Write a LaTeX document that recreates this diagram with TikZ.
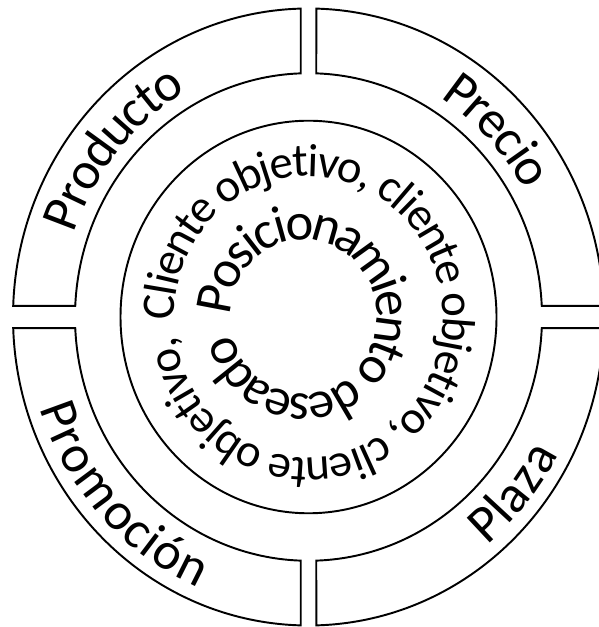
\documentclass[tikz,border=0pt]{standalone}
\usepackage{fontspec}
\setmainfont{Carlito}
\usetikzlibrary{decorations.text}

\begin{document}
\begin{tikzpicture}[
  sector/.style={draw, line width=1.1pt},
  ring/.style={draw, line width=1.1pt},
  mixlabel/.style={decorate, decoration={text along path, text align=center, raise=-10pt,
    text={|\fontsize{30}{34}\selectfont|#1}}},
  ringtext/.style={decorate, decoration={text along path, raise=-9pt,
    text={|\fontsize{26.6}{30}\selectfont|#1}}},
  coretext/.style={decorate, decoration={text along path, raise=-9.5pt,
    text={|\fontsize{30}{34}\selectfont|#1}}}
]
\useasboundingbox (-6.17,-6.20) rectangle (5.79,6.34);
\begin{scope}[yscale=1.044]
% the four parts of the mix
\draw[sector] (91.51:5.91) arc[start angle=91.51, end angle=177.92, radius=5.91]
  -- (177.37:4.67) arc[start angle=177.37, end angle=91.91, radius=4.67] -- cycle;
\draw[sector] (88.49:5.91) arc[start angle=88.49, end angle=2.08, radius=5.91]
  -- (2.63:4.67) arc[start angle=2.63, end angle=88.09, radius=4.67] -- cycle;
\draw[sector] (182.08:5.91) arc[start angle=182.08, end angle=268.49, radius=5.91]
  -- (268.09:4.67) arc[start angle=268.09, end angle=182.63, radius=4.67] -- cycle;
\draw[sector] (-88.49:5.91) arc[start angle=-88.49, end angle=-2.08, radius=5.91]
  -- (-2.63:4.67) arc[start angle=-2.63, end angle=-88.09, radius=4.67] -- cycle;
% target circle
\draw[ring] (0,0) circle[radius=3.76];
% labels
\path[mixlabel=Producto] (185:5.3) arc[start angle=185, end angle=95, radius=5.3];
\path[mixlabel=Precio] (89:5.3) arc[start angle=89, end angle=-1, radius=5.3];
\path[mixlabel=Promoción] (178:5.3) arc[start angle=178, end angle=268, radius=5.3];
\path[mixlabel=Plaza] (-85:5.3) arc[start angle=-85, end angle=5, radius=5.3];
\path[ringtext={Cliente objetivo, cliente objetivo, cliente objetivo,}]
  (181:3.0) arc[start angle=181, end angle=-178, radius=3.0];
\path[coretext={Posicionamiento deseado}]
  (-0.1,0) ++(177:1.8) arc[start angle=177, end angle=-182, radius=1.8];
\end{scope}
\end{tikzpicture}
\end{document}
